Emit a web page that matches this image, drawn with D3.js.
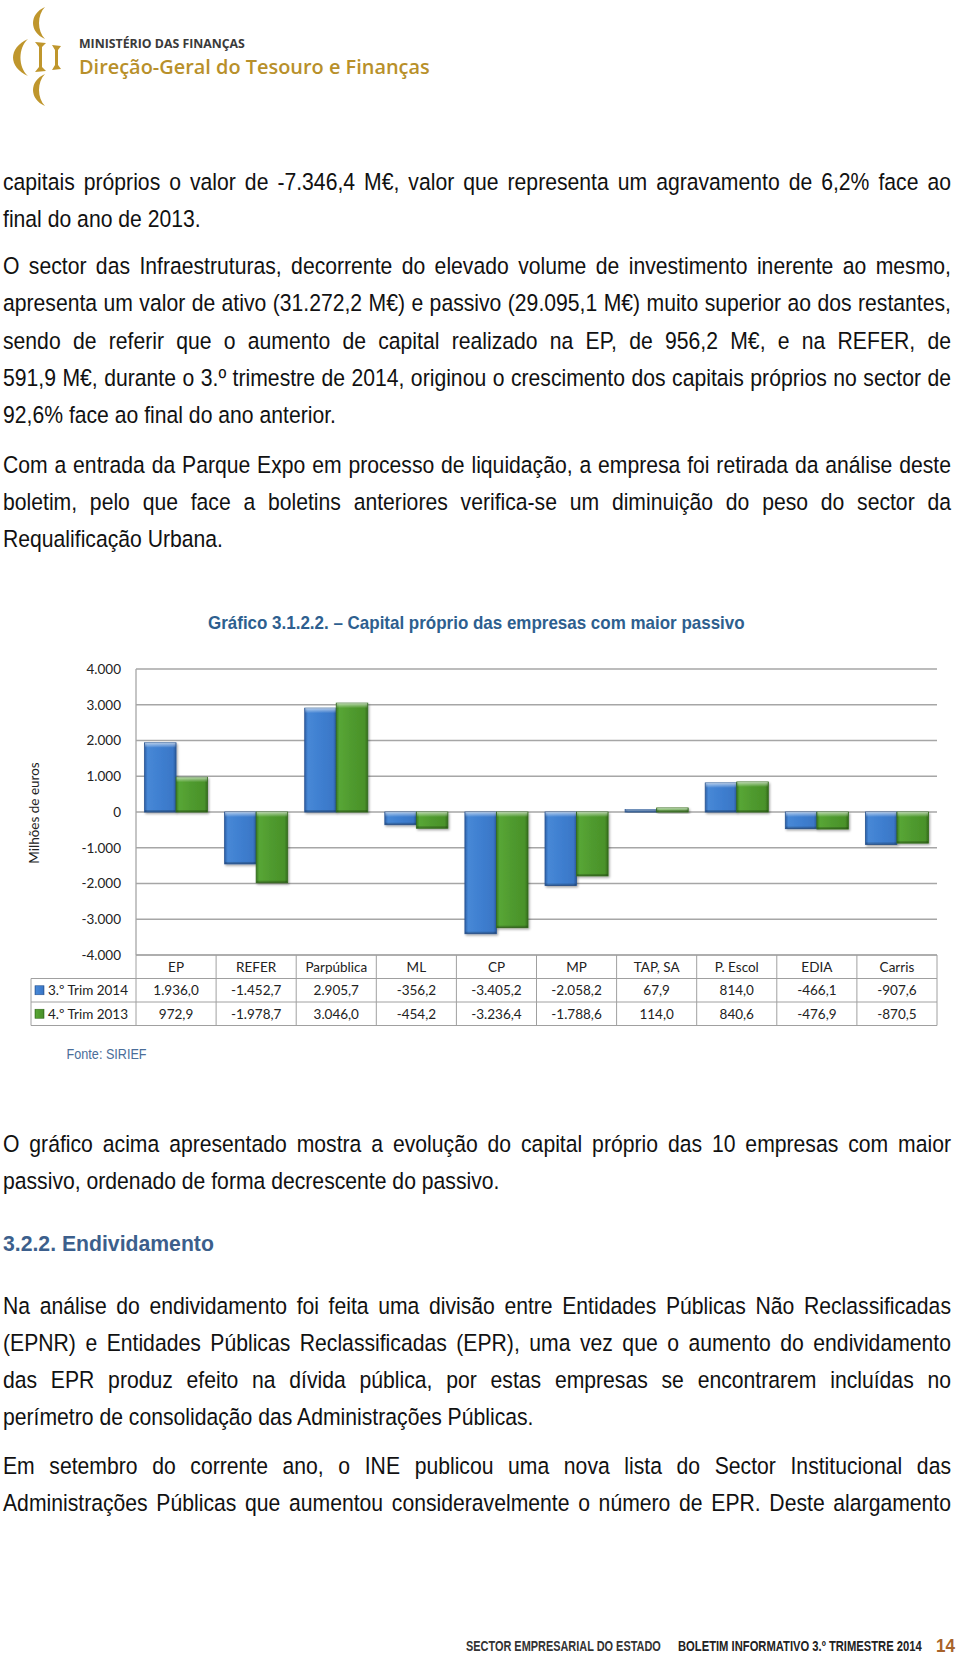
<!DOCTYPE html>
<html><head><meta charset="utf-8">
<script src="https://cdn.jsdelivr.net/npm/d3@7"></script>
<style>body{margin:0;background:#fff}svg{display:block}</style>
</head><body>
<svg id="page" width="960" height="1657"></svg>
<script>
// ---------------- DATA ----------------
const categories = ["EP","REFER","Parpública","ML","CP","MP","TAP, SA","P. Escol","EDIA","Carris"];
const seriesNames = ["3.º Trim 2014","4.º Trim 2013"];
const trim2014 = [1936.0,-1452.7,2905.7,-356.2,-3405.2,-2058.2,67.9,814.0,-466.1,-907.6];
const trim2013 = [972.9,-1978.7,3046.0,-454.2,-3236.4,-1788.6,114.0,840.6,-476.9,-870.5];
const yTicks = [4000,3000,2000,1000,0,-1000,-2000,-3000,-4000];
const yLabel = "Milhões de euros";
const chartTitle = "Gráfico 3.1.2.2. – Capital próprio das empresas com maior passivo";
const sourceNote = "Fonte: SIRIEF";

// ---------------- PAGE TEXT ----------------
const para1 = ["capitais próprios o valor de -7.346,4 M€, valor que representa um agravamento de 6,2% face ao",
  "final do ano de 2013."];
const para2 = ["O sector das Infraestruturas, decorrente do elevado volume de investimento inerente ao mesmo,",
  "apresenta um valor de ativo (31.272,2 M€) e passivo (29.095,1 M€) muito superior ao dos restantes,",
  "sendo de referir que o aumento de capital realizado na EP, de 956,2 M€, e na REFER, de",
  "591,9 M€, durante o 3.º trimestre de 2014, originou o crescimento dos capitais próprios no sector de",
  "92,6% face ao final do ano anterior."];
const para3 = ["Com a entrada da Parque Expo em processo de liquidação, a empresa foi retirada da análise deste",
  "boletim, pelo que face a boletins anteriores verifica-se um diminuição do peso do sector da",
  "Requalificação Urbana."];
const para4 = ["O gráfico acima apresentado mostra a evolução do capital próprio das 10 empresas com maior",
  "passivo, ordenado de forma decrescente do passivo."];
const heading = "3.2.2. Endividamento";
const para5 = ["Na análise do endividamento foi feita uma divisão entre Entidades Públicas Não Reclassificadas",
  "(EPNR) e Entidades Públicas Reclassificadas (EPR), uma vez que o aumento do endividamento",
  "das EPR produz efeito na dívida pública, por estas empresas se encontrarem incluídas no",
  "perímetro de consolidação das Administrações Públicas."];
const para6 = ["Em setembro do corrente ano, o INE publicou uma nova lista do Sector Institucional das",
  "Administrações Públicas que aumentou consideravelmente o número de EPR. Deste alargamento"];

const svg = d3.select("#page");
const defs = svg.append("defs");
const bodyFont = "'Liberation Sans Narrow','Arial Narrow','Liberation Sans',Arial,sans-serif";

function measure(str, fs, weight, font) {
  const t = svg.append("text").attr("font-family", font || bodyFont).attr("font-size", fs)
    .attr("font-weight", weight || 400).text(str);
  const w = t.node().getComputedTextLength(); t.remove(); return w;
}
// text fitted to a target width by a horizontal scale transform
function fitText(x, yb, str, targetW, fs, weight, font, fill) {
  const w = measure(str, fs, weight, font);
  return svg.append("g").attr("transform", `translate(${x},${yb}) scale(${targetW / w},1)`)
    .append("text").attr("font-family", font || bodyFont).attr("font-size", fs)
    .attr("font-weight", weight || 400).attr("fill", fill).text(str);
}

// ---------------- LOGO ----------------
const gold = "#bf962c";
const logo = svg.append("g");
["M45,7 C29,14 29,32 45,39 C37,31 37,15 45,7 Z",
 "M45,74 C29,81 29,99 45,106 C37,98 37,82 45,74 Z",
 "M28,39 C8,48 8,67 28,76 C18,67 18,48 28,39 Z",
 "M35,42 L46,43 L42,47 L42,67 L46,71 L35,72 L39,67 L39,47 Z",
 "M52,45 L61,46 L58,50 L58,65 L61,69 L52,70 L55,65 L55,50 Z"
].forEach(d => logo.append("path").attr("d", d).attr("fill", gold));
fitText(79, 47.7, "MINISTÉRIO DAS FINANÇAS", 166, 12, 700, "'Open Sans',sans-serif", "#3a3a3a");
fitText(79, 74, "Direção-Geral do Tesouro e Finanças", 351, 20.5, 600, "'Open Sans',sans-serif", "#b8902a");

// ---------------- BODY TEXT ----------------
const FS = 23.5;
const LEFT = 3, RIGHT = 951, LS = 37.2;
const lastTargets = [["final do ano de 2013.",194.5],["92,6% face ao final do ano anterior.",333],
  ["Requalificação Urbana.",220],["passivo, ordenado de forma decrescente do passivo.",499],
  ["perímetro de consolidação das Administrações Públicas.",534]];
const k = d3.median(lastTargets.map(([s,w]) => w / measure(s, FS)));

function drawLine(str, cy, justify) {
  const g = svg.append("g").attr("transform", `translate(${LEFT},${cy + 0.33*FS}) scale(${k},1)`);
  const text = g.append("text").attr("font-family", bodyFont).attr("font-size", FS).attr("fill", "#111");
  if (!justify) { text.attr("x", 0).text(str); return; }
  const words = str.split(" ");
  const ws = words.map(w => measure(w, FS));
  const gap = ((RIGHT - LEFT) / k - d3.sum(ws)) / (words.length - 1);
  let x = 0;
  words.forEach((w, i) => { text.append("tspan").attr("x", x).text(w); x += ws[i] + gap; });
}
function drawPara(lines, y0, lastJust) {
  lines.forEach((l, i) => drawLine(l, y0 + i * LS, i < lines.length - 1 || lastJust));
}
drawPara(para1, 182, false);
drawPara(para2, 266.4, false);
drawPara(para3, 465.2, false);
drawPara(para4, 1144, false);
drawPara(para5, 1305.8, false);
drawPara(para6, 1466.5, true);

fitText(LEFT, 1243.4 + 0.36*22, heading, 211, 22, 700, bodyFont, "#3c5f8c");

// ---------------- CHART ----------------
const plotL = 136, plotR = 937, plotT = 669, plotB = 955;
const x0 = d3.scaleBand().domain(categories).range([plotL, plotR]).padding(0);
const x1 = d3.scaleBand().domain(seriesNames).range([0, x0.bandwidth()]).paddingInner(0).paddingOuter(0.27);
const y = d3.scaleLinear().domain([-4000, 4000]).range([plotB, plotT]);
const loc = d3.formatLocale({decimal: ",", thousands: ".", grouping: [3], currency: ["", "€"], minus: "-"});
const fmtTick = loc.format(",.0f"), fmtVal = loc.format(",.1f");
const chartFont = "Lato,'Open Sans',sans-serif";

// title
fitText(208, 623 + 6.3, chartTitle, 537, 18, 700, bodyFont, "#2e5f8f");

// gridlines
const grid = svg.append("g");
grid.selectAll("line").data(yTicks).join("line")
  .attr("x1", plotL).attr("x2", plotR).attr("y1", d => y(d)).attr("y2", d => y(d))
  .attr("stroke", "#a6a6a6").attr("stroke-width", 1.3);
svg.append("line").attr("x1",plotL).attr("x2",plotL).attr("y1",plotT).attr("y2",plotB)
  .attr("stroke","#a6a6a6").attr("stroke-width",1.3);

// tick labels
svg.append("g").selectAll("text").data(yTicks).join("text")
  .attr("x", 121).attr("y", d => y(d) + 4.8).attr("text-anchor", "end")
  .attr("font-family", chartFont).attr("font-size", 13.5).attr("fill", "#222")
  .text(d => fmtTick(d));

// y label
svg.append("text").attr("transform", `translate(39,813) rotate(-90)`).attr("text-anchor","middle")
  .attr("font-family", chartFont).attr("font-size", 13.5).attr("fill", "#222").text(yLabel);

// gradients
function hGrad(id, stops) {
  const g = defs.append("linearGradient").attr("id", id).attr("x1",0).attr("x2",1).attr("y1",0).attr("y2",0);
  stops.forEach(([o,c]) => g.append("stop").attr("offset", o).attr("stop-color", c));
}
hGrad("gBlue", [[0,"#2c5fa6"],[0.1,"#4788d6"],[0.5,"#3f7fd0"],[0.9,"#3a77c7"],[1,"#2a5a9c"]]);
hGrad("gGreen", [[0,"#3a7a20"],[0.1,"#58a636"],[0.5,"#4f9a2e"],[0.9,"#4a922a"],[1,"#346c1b"]]);
const hl = defs.append("linearGradient").attr("id","hl").attr("x1",0).attr("x2",0).attr("y1",0).attr("y2",1);
hl.append("stop").attr("offset",0).attr("stop-color","#fff").attr("stop-opacity",0.6);
hl.append("stop").attr("offset",1).attr("stop-color","#fff").attr("stop-opacity",0);
const f = defs.append("filter").attr("id","sh").attr("x","-20%").attr("y","-20%").attr("width","150%").attr("height","150%");
f.append("feDropShadow").attr("dx",1.2).attr("dy",1.5).attr("stdDeviation",1.2)
  .attr("flood-color","#000").attr("flood-opacity",0.35);

const seriesData = [{name: seriesNames[0], values: trim2014, fill: "url(#gBlue)", edge: "#2a5592"},
                    {name: seriesNames[1], values: trim2013, fill: "url(#gGreen)", edge: "#336b1c"}];
const bars = svg.append("g");
seriesData.forEach(s => {
  const g = bars.append("g");
  const items = categories.map((c, i) => ({c, v: s.values[i]}));
  const sel = g.selectAll("g").data(items).join("g")
    .attr("transform", d => `translate(${x0(d.c) + x1(s.name)},${y(Math.max(0, d.v))})`);
  sel.append("rect").attr("width", x1.bandwidth()).attr("height", d => Math.abs(y(d.v) - y(0)))
    .attr("fill", s.fill).attr("stroke", s.edge).attr("stroke-width", 0.8).attr("filter", "url(#sh)");
  sel.append("rect").attr("x",0.5).attr("width", x1.bandwidth()-1)
    .attr("height", d => Math.min(5, Math.abs(y(d.v) - y(0)))).attr("fill", "url(#hl)");
  sel.append("rect").attr("x",0.5).attr("width", x1.bandwidth()-1)
    .attr("y", d => Math.max(0, Math.abs(y(d.v) - y(0)) - 2))
    .attr("height", d => Math.min(2, Math.abs(y(d.v) - y(0)))).attr("fill", "#000").attr("opacity", 0.2);
});

// data table
const rowT = [plotB, 978.5, 1002, 1025.5];
const legL = 31;
const tbl = svg.append("g").attr("stroke", "#a0a0a0").attr("stroke-width", 1);
tbl.append("line").attr("x1", plotL).attr("x2", plotR).attr("y1", rowT[0]).attr("y2", rowT[0]);
[1,2,3].forEach(r => tbl.append("line").attr("x1", legL).attr("x2", plotR).attr("y1", rowT[r]).attr("y2", rowT[r]));
tbl.append("line").attr("x1", legL).attr("x2", legL).attr("y1", rowT[1]).attr("y2", rowT[3]);
categories.forEach(c => tbl.append("line").attr("x1", x0(c)).attr("x2", x0(c)).attr("y1", rowT[0]).attr("y2", rowT[3]));
tbl.append("line").attr("x1", plotR).attr("x2", plotR).attr("y1", rowT[0]).attr("y2", rowT[3]);

const cellText = (x, yy, t, anchor) => svg.append("text").attr("x", x).attr("y", yy)
  .attr("text-anchor", anchor || "middle").attr("font-family", chartFont).attr("font-size", 13.5)
  .attr("fill", "#222").text(t);
categories.forEach(c => cellText(x0(c) + x0.bandwidth()/2, (rowT[0]+rowT[1])/2 + 4.8, c));
seriesData.forEach((s, r) => {
  const cy = (rowT[r+1] + rowT[r+2]) / 2;
  svg.append("rect").attr("x", 35).attr("y", cy - 4.5).attr("width", 9).attr("height", 9)
    .attr("fill", s.fill).attr("stroke", s.edge).attr("stroke-width", 0.6);
  cellText(48, cy + 4.8, s.name, "start");
  categories.forEach((c, i) => cellText(x0(c) + x0.bandwidth()/2, cy + 4.8, fmtVal(s.values[i])));
});

// source
fitText(66.6, 1054 + 5, sourceNote, 80, 14, 400, bodyFont, "#4a6d99");

// ---------------- FOOTER ----------------
fitText(466, 1650.5, "SECTOR EMPRESARIAL DO ESTADO", 195, 14.5, 700, bodyFont, "#333");
fitText(678, 1650.5, "BOLETIM INFORMATIVO 3.º TRIMESTRE 2014", 244, 14.5, 700, bodyFont, "#222");
fitText(936, 1652, "14", 19, 19, 700, bodyFont, "#a8632a");
</script>
</body></html>
